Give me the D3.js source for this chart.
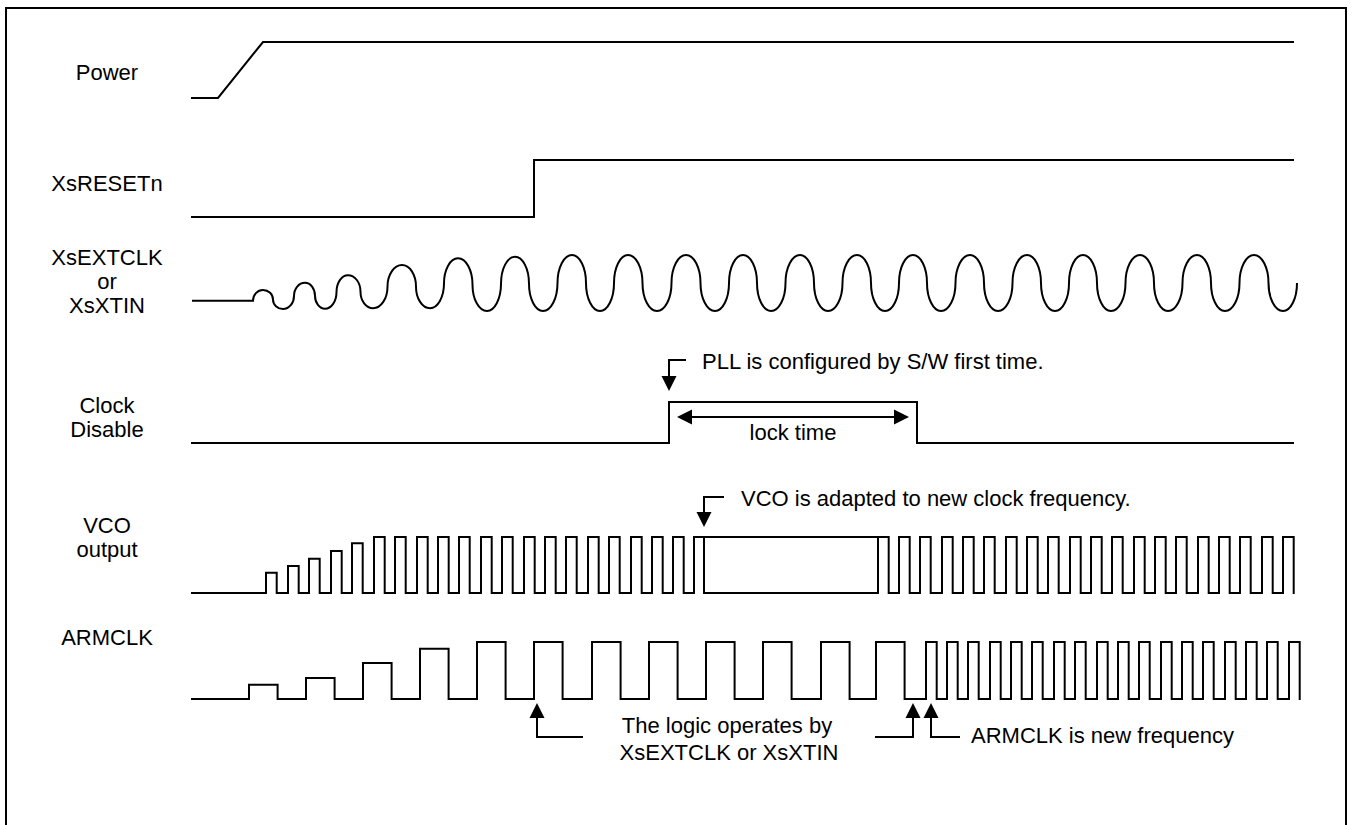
<!DOCTYPE html>
<html>
<head>
<meta charset="utf-8">
<script src="https://cdn.jsdelivr.net/npm/d3@7"></script>
<style>
  html, body { margin: 0; padding: 0; background: #fff; }
  svg { display: block; }
  text { font-family: "Liberation Sans", Arial, Helvetica, sans-serif; font-size: 22px; fill: #000; }
</style>
</head>
<body>
<svg id="chart" width="1354" height="825"></svg>
<script>
// ---------------- DATA (time units along the diagram, levels 0 = low, 1 = high) ----------------
const signalNames = [["Power"], ["XsRESETn"], ["XsEXTCLK", "or", "XsXTIN"], ["Clock", "Disable"], ["VCO", "output"], ["ARMCLK"]];

const powerT = [0, 26, 71, 1101];
const powerLevel = [0, 0, 1, 1];

const resetT = [0, 342, 342, 1101];
const resetLevel = [0, 0, 1, 1];

// oscillator extrema (level -1 = trough, +1 = crest)
const extT = [0, 61, 71, 91, 113, 133, 156, 181, 210, 238, 266, 295, 323, 351, 380, 408, 436, 465,
              494, 523, 551, 579, 608, 636, 665, 693, 721, 749, 778, 806, 835, 863, 891, 919, 948, 976,
              1005, 1033, 1062, 1091, 1105];
const extLevel = [-0.63, -0.63, -0.25, -0.93, 0.01, -0.92, 0.28, -0.9, 0.64, -0.9, 0.88, -1, 0.94, -1, 1, -1, 1, -1,
                  1, -1, 1, -1, 1, -1, 1, -1, 1, -1, 1, -1, 1, -1, 1, -1, 1, -1,
                  1, -1, 1, -1, 0];

const clkDisT = [0, 477, 477, 725, 725, 1101];
const clkDisLevel = [0, 0, 1, 1, 0, 0];

const vcoStartRises = [74, 96, 117, 139, 160, 182, 203, 225, 246, 267, 289, 310, 332, 353, 374, 396, 417, 439, 460, 481, 502];
const vcoStartLevels = [0.36, 0.48, 0.61, 0.75, 0.89, 1, 1, 1, 1, 1, 1, 1, 1, 1, 1, 1, 1, 1, 1, 1, 1];
const vcoHold = [512, 686];
const vcoFastRises = [686, 707, 728, 750, 771, 792, 814, 835, 856, 878, 899, 920, 942, 963, 984, 1006, 1027, 1048, 1070, 1091];
const vcoHighWidth = 10.7;

const armSlowRises = [57, 114, 171, 228, 285, 342, 400, 457, 514, 571, 629, 684];
const armSlowLevels = [0.25, 0.37, 0.63, 0.88, 1, 1, 1, 1, 1, 1, 1, 1];
const armSlowWidth = 28.6;
const armFastRises = [734, 755, 776, 798, 819, 840, 862, 883, 905, 926, 947, 969, 990, 1011, 1033, 1054, 1075, 1097];
const armFastWidth = 10.7;

const notes = {
  pll: "PLL is configured by S/W first time.",
  lock: "lock time",
  vco: "VCO is adapted to new clock frequency.",
  logic: ["The logic operates by", "XsEXTCLK or XsXTIN"],
  arm: "ARMCLK is new frequency"
};

// ---------------- LAYOUT ----------------
const svg = d3.select("#chart");
const x = d3.scaleLinear().domain([0, 1105]).range([192, 1297]);

// per-row vertical scales: [low y, high y]
const rowY = [
  d3.scaleLinear().domain([0, 1]).range([98, 42]),
  d3.scaleLinear().domain([0, 1]).range([217, 160]),
  d3.scaleLinear().domain([-1, 1]).range([311, 255]),
  d3.scaleLinear().domain([0, 1]).range([443, 402]),
  d3.scaleLinear().domain([0, 1]).range([593, 537]),
  d3.scaleLinear().domain([0, 1]).range([699, 642])
];
const labelBaselines = [[80], [191], [265, 289, 313], [413, 437], [533, 557], [645]];
const labelX = 107;

// frame
svg.append("rect").attr("x", 6).attr("y", 8).attr("width", 1340).attr("height", 840)
  .attr("fill", "none").attr("stroke", "#000").attr("stroke-width", 2);

// labels
signalNames.forEach((lines, i) => {
  lines.forEach((s, j) => {
    svg.append("text").attr("x", labelX).attr("y", labelBaselines[i][j])
      .attr("text-anchor", "middle").text(s);
  });
});

const wave = svg.append("g").attr("fill", "none").attr("stroke", "#000").attr("stroke-width", 2)
  .attr("stroke-linejoin", "miter").attr("stroke-linecap", "square");

function stepLine(ys) {
  return d3.line().x(d => x(d[0])).y(d => ys(d[1]));
}
function zip(a, b) { return a.map((v, i) => [v, b[i]]); }

wave.append("path").attr("d", stepLine(rowY[0])(zip(powerT, powerLevel)));
wave.append("path").attr("d", stepLine(rowY[1])(zip(resetT, resetLevel)));
wave.append("path").attr("d", stepLine(rowY[3])(zip(clkDisT, clkDisLevel)));

// oscillator: elliptical arches between extrema (horizontal tangent at extrema, vertical at mid-crossings)
(function () {
  const pts = zip(extT, extLevel).map(d => [x(d[0]), rowY[2](d[1])]);
  const p = d3.path();
  const k = 0.5523;
  p.moveTo(pts[0][0], pts[0][1]);
  p.lineTo(pts[1][0], pts[1][1]);
  // first quarter: vertical start to crest
  {
    const A = pts[1], B = pts[2];
    p.bezierCurveTo(A[0], A[1] + k * (B[1] - A[1]), B[0] - k * (B[0] - A[0]), B[1], B[0], B[1]);
  }
  for (let i = 2; i < pts.length - 2; i++) {
    const A = pts[i], B = pts[i + 1];
    const M = [(A[0] + B[0]) / 2, (A[1] + B[1]) / 2];
    p.bezierCurveTo(A[0] + k * (M[0] - A[0]), A[1], M[0], M[1] + k * (A[1] - M[1]), M[0], M[1]);
    p.bezierCurveTo(M[0], M[1] + k * (B[1] - M[1]), B[0] - k * (B[0] - M[0]), B[1], B[0], B[1]);
  }
  // last quarter: trough to vertical end
  {
    const A = pts[pts.length - 2], B = pts[pts.length - 1];
    p.bezierCurveTo(A[0] + k * (B[0] - A[0]), A[1], B[0], B[1] + k * (A[1] - B[1]), B[0], B[1]);
  }
  wave.append("path").attr("stroke-linecap", "butt").attr("d", p.toString());
})();

// pulse builder
function pulses(rises, levels, width, start) {
  const pts = [];
  if (start !== undefined) pts.push([start, 0]);
  rises.forEach((r, i) => {
    const l = levels ? levels[i] : 1;
    pts.push([r, 0], [r, l], [r + width, l], [r + width, 0]);
  });
  return pts;
}

// VCO
let vcoPts = pulses(vcoStartRises, vcoStartLevels, vcoHighWidth, 0);
vcoPts[vcoPts.length - 2][0] = vcoHold[0];
vcoPts[vcoPts.length - 1][0] = vcoHold[0];
vcoPts = vcoPts.concat(pulses(vcoFastRises, null, vcoHighWidth));
wave.append("path").attr("d", stepLine(rowY[4])(vcoPts));
wave.append("path").attr("d", stepLine(rowY[4])([[vcoHold[0], 1], [vcoHold[1], 1]]));

// ARMCLK
let armPts = pulses(armSlowRises, armSlowLevels, armSlowWidth, 0)
  .concat(pulses(armFastRises, null, armFastWidth));
wave.append("path").attr("d", stepLine(rowY[5])(armPts));

// ---------------- ANNOTATIONS ----------------
const ann = svg.append("g");
function line(pts) {
  ann.append("path").attr("d", d3.line()(pts)).attr("fill", "none")
    .attr("stroke", "#000").attr("stroke-width", 2);
}
function head(tx, ty, dir) {
  const L = 15, W = 7.5;
  let p;
  if (dir === "down") p = [[tx, ty], [tx - W, ty - L], [tx + W, ty - L]];
  if (dir === "up") p = [[tx, ty], [tx - W, ty + L], [tx + W, ty + L]];
  if (dir === "left") p = [[tx, ty], [tx + L, ty - W], [tx + L, ty + W]];
  if (dir === "right") p = [[tx, ty], [tx - L, ty - W], [tx - L, ty + W]];
  ann.append("path").attr("d", d3.line()(p) + "Z").attr("fill", "#000");
}

// PLL configured
const pllX = x(clkDisT[1]);
line([[pllX + 17, 360], [pllX, 360], [pllX, 378]]);
head(pllX, 391, "down");
ann.append("text").attr("x", pllX + 33).attr("y", 369).text(notes.pll);

// lock time
const lockL = x(clkDisT[2]) + 8, lockR = x(clkDisT[3]) - 8;
line([[lockL + 10, 417], [lockR - 10, 417]]);
head(lockL, 417, "left");
head(lockR, 417, "right");
ann.append("text").attr("x", (lockL + lockR) / 2).attr("y", 440).attr("text-anchor", "middle").text(notes.lock);

// VCO adapted
const vX = x(vcoHold[0]);
line([[vX + 20, 497], [vX, 497], [vX, 514]]);
head(vX, 527, "down");
ann.append("text").attr("x", vX + 37).attr("y", 506).text(notes.vco);

// logic operates
const lX = x(armSlowRises[5]) + 3;
line([[lX, 715], [lX, 737], [lX + 46, 737]]);
head(lX, 703, "up");
ann.append("text").attr("x", 727).attr("y", 733).attr("text-anchor", "middle").text(notes.logic[0]);
ann.append("text").attr("x", 729).attr("y", 760).attr("text-anchor", "middle").text(notes.logic[1]);

// right pair
const r1 = x(721), r2 = x(739);
line([[r1 - 38, 737], [r1, 737], [r1, 715]]);
head(r1, 703, "up");
line([[r2, 715], [r2, 737], [r2 + 29, 737]]);
head(r2, 703, "up");
ann.append("text").attr("x", r2 + 40).attr("y", 743).text(notes.arm);
</script>
</body>
</html>
